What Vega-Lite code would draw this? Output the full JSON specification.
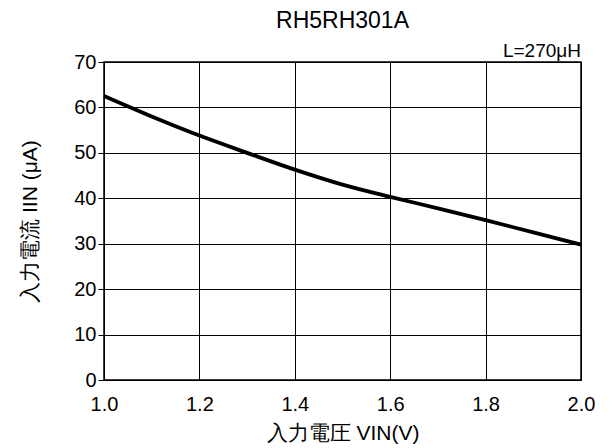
{
  "$schema": "https://vega.github.io/schema/vega-lite/v6.json",
  "autosize": {"type": "none"},
  "width": 477,
  "height": 318,
  "padding": {"left": 104, "top": 62, "right": 32, "bottom": 68},
  "background": "white",
  "config": {
    "font": "Liberation Sans",
    "view": {"stroke": "black", "strokeWidth": 1.5},
    "axis": {
      "labelFont": "Liberation Sans",
      "titleFont": "Liberation Sans",
      "labelFontSize": 20,
      "titleFontSize": 20,
      "labelColor": "black",
      "titleColor": "black",
      "titleFontWeight": "normal",
      "labelFlush": false,
      "labelOverlap": false,
      "domain": false,
      "gridColor": "black",
      "gridOpacity": 1,
      "gridWidth": 1
    }
  },
  "title": {
    "text": "RH5RH301A",
    "font": "Liberation Sans",
    "fontSize": 23,
    "fontWeight": "normal",
    "color": "black",
    "anchor": "middle",
    "offset": 9
  },
  "layer": [
    {
      "data": {
        "values": [
          {"vin": 1.0, "iin": 62.5},
          {"vin": 1.1, "iin": 58.0},
          {"vin": 1.2, "iin": 53.8},
          {"vin": 1.3, "iin": 50.0},
          {"vin": 1.4, "iin": 46.3},
          {"vin": 1.5, "iin": 43.0},
          {"vin": 1.6, "iin": 40.3},
          {"vin": 1.7, "iin": 37.8},
          {"vin": 1.8, "iin": 35.2},
          {"vin": 1.9, "iin": 32.5},
          {"vin": 2.0, "iin": 29.8}
        ]
      },
      "mark": {"type": "line", "color": "black", "strokeWidth": 3.8, "interpolate": "monotone"},
      "encoding": {
        "x": {
          "field": "vin",
          "type": "quantitative",
          "scale": {"domain": [1.0, 2.0], "nice": false},
          "axis": {
            "values": [1.0, 1.2, 1.4, 1.6, 1.8, 2.0],
            "format": ".1f",
            "ticks": false,
            "labelPadding": 14,
            "title": "入力電圧 VIN(V)",
            "titleFontSize": 21,
            "titlePadding": 8
          }
        },
        "y": {
          "field": "iin",
          "type": "quantitative",
          "scale": {"domain": [0, 70], "nice": false},
          "axis": {
            "values": [0, 10, 20, 30, 40, 50, 60, 70],
            "tickColor": "black",
            "tickSize": 6,
            "labelPadding": 2,
            "title": "入力電流 IIN (μA)",
            "titleFontSize": 21,
            "titlePadding": 33
          }
        }
      }
    },
    {
      "data": {"values": [{"vin": 2.0, "iin": 70, "note": "L=270μH"}]},
      "mark": {
        "type": "text",
        "align": "right",
        "baseline": "alphabetic",
        "dy": -5,
        "font": "Liberation Sans",
        "fontSize": 19,
        "color": "black"
      },
      "encoding": {
        "x": {"field": "vin", "type": "quantitative"},
        "y": {"field": "iin", "type": "quantitative"},
        "text": {"field": "note"}
      }
    }
  ]
}
